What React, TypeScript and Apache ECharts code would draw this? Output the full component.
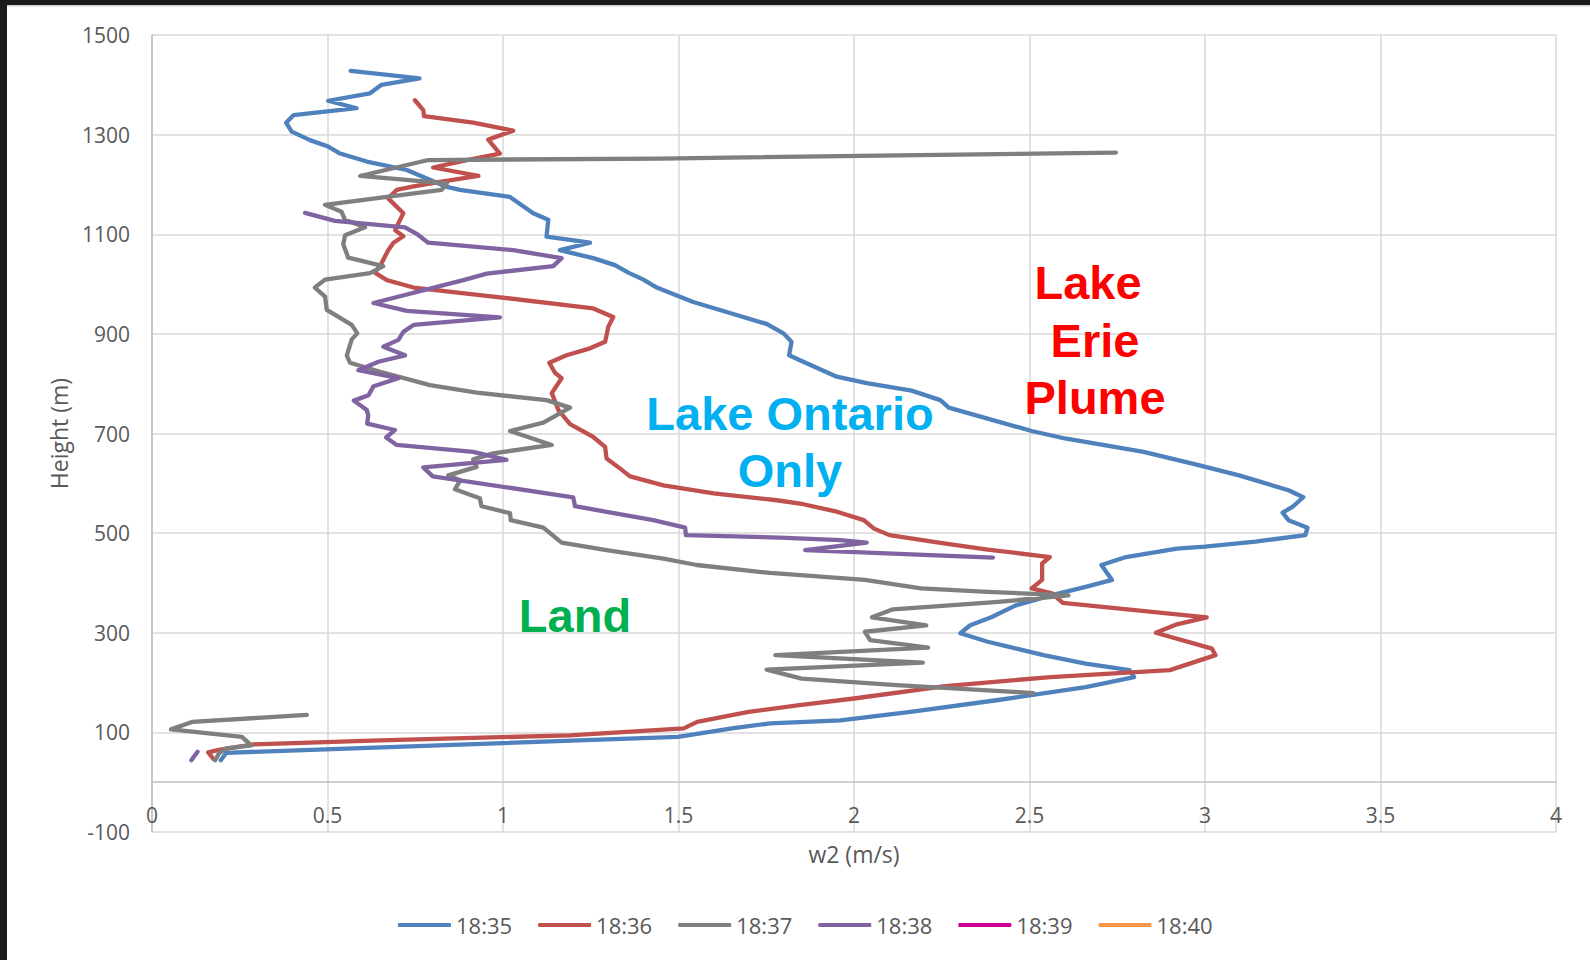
import React, { useEffect, useRef } from "react";
import * as echarts from "echarts";

// Vertical profiles of w2 (m/s) against height (m), one per launch time.
const seriesNames = ["18:35", "18:36", "18:37", "18:38", "18:39", "18:40"];
const seriesColors = ["#4F81BD", "#C0504D", "#7F7F7F", "#8064A2", "#CC0099", "#F79646"];

const xTicks = { min: 0, max: 4, step: 0.5 };
const yTicks = { min: -100, max: 1500, step: 200 };

// [w2, height] pairs, ordered from the ground up
const profile1835: [number, number][] = [
  [0.196, 44], [0.212, 59], [1.499, 91], [1.652, 108], [1.761, 118], [1.961, 124],
  [2.161, 141], [2.411, 165], [2.66, 191], [2.798, 211], [2.785, 225], [2.66, 238],
  [2.54, 255], [2.381, 282], [2.303, 299], [2.331, 315], [2.391, 331], [2.461, 355],
  [2.561, 375], [2.66, 392], [2.735, 406], [2.705, 436], [2.775, 452], [2.92, 469],
  [3.0, 473], [3.144, 483], [3.286, 496], [3.292, 511], [3.238, 526], [3.221, 541],
  [3.25, 553], [3.28, 572], [3.238, 586], [3.097, 616], [2.979, 637], [2.825, 663],
  [2.601, 690], [2.506, 705], [2.27, 752], [2.246, 767], [2.164, 786], [2.036, 801],
  [1.951, 814], [1.865, 841], [1.815, 857], [1.822, 884], [1.799, 901], [1.751, 920],
  [1.656, 940], [1.542, 964], [1.438, 993], [1.4, 1009], [1.357, 1023], [1.319, 1038],
  [1.257, 1052], [1.162, 1068], [1.248, 1083], [1.124, 1095], [1.129, 1129], [1.086, 1142],
  [1.02, 1175], [0.877, 1189], [0.84, 1195], [0.783, 1212], [0.726, 1229], [0.612, 1246],
  [0.536, 1262], [0.502, 1276], [0.45, 1289], [0.398, 1306], [0.382, 1324], [0.403, 1339],
  [0.583, 1353], [0.502, 1368], [0.621, 1383], [0.654, 1400], [0.762, 1413], [0.566, 1428],
];

const profile1836: [number, number][] = [
  [0.175, 47], [0.16, 60], [0.19, 65], [0.29, 76], [0.65, 84], [1.19, 94],
  [1.515, 108], [1.553, 121], [1.7, 141], [1.85, 155], [2.0, 168], [2.26, 193],
  [2.56, 211], [2.9, 225], [3.03, 255], [3.02, 268], [2.86, 300], [2.92, 317],
  [3.005, 331], [2.595, 360], [2.564, 379], [2.506, 389], [2.536, 406], [2.536, 439],
  [2.558, 452], [2.381, 467], [2.261, 479], [2.101, 496], [2.057, 509], [2.028, 526],
  [1.951, 543], [1.856, 558], [1.78, 566], [1.6, 580], [1.457, 596], [1.362, 614],
  [1.333, 630], [1.295, 650], [1.291, 673], [1.257, 693], [1.191, 719], [1.158, 747],
  [1.139, 781], [1.167, 811], [1.148, 822], [1.132, 842], [1.181, 857], [1.248, 871],
  [1.291, 884], [1.3, 914], [1.314, 934], [1.257, 951], [0.972, 975], [0.745, 993],
  [0.669, 1008], [0.635, 1023], [0.654, 1042], [0.673, 1068], [0.688, 1083], [0.716, 1096],
  [0.693, 1108], [0.702, 1122], [0.716, 1142], [0.673, 1172], [0.697, 1189], [0.745, 1196],
  [0.82, 1205], [0.93, 1217], [0.801, 1234], [0.897, 1249], [0.991, 1262], [0.958, 1290],
  [1.029, 1308], [0.915, 1324], [0.775, 1337], [0.773, 1349], [0.749, 1369],
];

// 18:37 has a gap in its record between ~135 m and ~180 m
const profile1837Low: [number, number][] = [
  [0.18, 44], [0.191, 58], [0.212, 68], [0.283, 74], [0.256, 91], [0.054, 106],
  [0.114, 121], [0.441, 135],
];

const profile1837High: [number, number][] = [
  [2.511, 179], [2.121, 195], [1.851, 208], [1.751, 226], [2.196, 240], [1.776, 255],
  [2.211, 270], [2.046, 285], [2.031, 302], [2.206, 315], [2.051, 331], [2.111, 347],
  [2.411, 362], [2.611, 375], [2.381, 382], [2.191, 389], [2.031, 406], [1.761, 420],
  [1.552, 436], [1.457, 449], [1.295, 466], [1.167, 481], [1.115, 511], [1.022, 526],
  [1.02, 540], [0.939, 554], [0.934, 570], [0.863, 588], [0.878, 606], [0.844, 616],
  [0.925, 633], [0.915, 648], [0.972, 660], [1.139, 677], [1.02, 705], [1.115, 722],
  [1.191, 752], [1.124, 767], [0.925, 782], [0.792, 797], [0.65, 824], [0.564, 842],
  [0.555, 857], [0.569, 889], [0.585, 901], [0.569, 918], [0.498, 948], [0.493, 975],
  [0.464, 993], [0.493, 1009], [0.621, 1022], [0.659, 1036], [0.559, 1053], [0.545, 1080],
  [0.55, 1098], [0.607, 1114], [0.55, 1129], [0.54, 1145], [0.493, 1159], [0.669, 1175],
  [0.825, 1189], [0.84, 1202], [0.593, 1217], [0.726, 1239], [0.787, 1249], [1.447, 1252],
  [2.746, 1264],
];

// 18:38 also has a gap, from ~60 m up to ~450 m
const profile1838Low: [number, number][] = [
  [0.112, 44], [0.13, 61],
];

const profile1838High: [number, number][] = [
  [2.396, 451], [1.861, 466], [2.036, 481], [1.961, 486], [1.789, 491], [1.521, 496],
  [1.519, 511], [1.428, 526], [1.276, 545], [1.205, 554], [1.2, 572], [0.8, 614],
  [0.773, 632], [1.01, 647], [0.915, 663], [0.697, 677], [0.667, 692], [0.692, 707],
  [0.613, 720], [0.616, 737], [0.612, 747], [0.575, 766], [0.617, 777], [0.631, 795],
  [0.702, 811], [0.588, 827], [0.645, 844], [0.721, 857], [0.659, 874], [0.702, 888],
  [0.716, 904], [0.745, 918], [0.991, 933], [0.726, 946], [0.631, 962], [0.887, 1008],
  [0.954, 1021], [1.143, 1036], [1.167, 1052], [1.029, 1068], [0.787, 1083], [0.754, 1101],
  [0.721, 1114], [0.521, 1127], [0.436, 1143],
];

const profile1839: [number, number][] = [];
const profile1840: [number, number][] = [];

// Region labels written on the plot
const regionLabels = [
  { text: "Lake", color: "#FF0000", x: 1088, y: 282 },
  { text: "Erie", color: "#FF0000", x: 1095, y: 340 },
  { text: "Plume", color: "#FF0000", x: 1095, y: 397 },
  { text: "Lake Ontario", color: "#00B0F0", x: 790, y: 413 },
  { text: "Only", color: "#00B0F0", x: 790, y: 470 },
  { text: "Land", color: "#00B050", x: 575, y: 615 },
];

const tickFont = '"Open Sans", "Liberation Sans", sans-serif';

// plot area, in pixels
const gridBox = { left: 152, right: 34, top: 35, bottom: 128, height: 797 };
// the horizontal axis sits at height 0, i.e. (0 - yMin) of the range above the bottom edge
const xAxisOffset = -((0 - yTicks.min) / (yTicks.max - yTicks.min)) * gridBox.height;

function lineSeries(name: string, color: string, data: [number, number][]) {
  return {
    type: "line",
    name,
    data,
    showSymbol: false,
    symbol: "none",
    smooth: false,
    lineStyle: { color, width: 4.3, cap: "round", join: "round" },
    itemStyle: { color },
    emphasis: { disabled: true },
  };
}

export default function App() {
  const ref = useRef<HTMLDivElement>(null);

  useEffect(() => {
    if (!ref.current) return;
    const chart = echarts.init(ref.current, undefined, { renderer: "svg" });

    const option = {
      animation: false,
      backgroundColor: "#ffffff",
      grid: {
        left: gridBox.left,
        right: gridBox.right,
        top: gridBox.top,
        bottom: gridBox.bottom,
        containLabel: false,
      },
      legend: {
        data: seriesNames,
        left: 393,
        top: 909,
        icon: "roundRect",
        itemWidth: 53,
        itemHeight: 4,
        itemGap: 26,
        textStyle: { color: "#595959", fontSize: 22, fontFamily: tickFont },
      },
      xAxis: {
        type: "value",
        position: "bottom",
        offset: xAxisOffset,
        min: xTicks.min,
        max: xTicks.max,
        interval: xTicks.step,
        name: "w2 (m/s)",
        nameLocation: "middle",
        nameGap: 60,
        nameTextStyle: { color: "#595959", fontSize: 23, fontFamily: tickFont },
        axisLine: { show: true, onZero: false, lineStyle: { color: "#BFBFBF", width: 1.5 } },
        axisTick: { show: false },
        axisLabel: {
          margin: 22,
          color: "#595959",
          fontSize: 21,
          fontFamily: tickFont,
          formatter: (v: number) => String(v),
        },
        splitLine: { show: true, lineStyle: { color: "#D9D9D9", width: 1.5 } },
      },
      yAxis: {
        type: "value",
        min: yTicks.min,
        max: yTicks.max,
        interval: yTicks.step,
        name: "Height (m)",
        nameLocation: "middle",
        nameRotate: 90,
        nameGap: 82,
        nameTextStyle: { color: "#595959", fontSize: 23, fontFamily: tickFont },
        axisLine: { show: true, onZero: false, lineStyle: { color: "#BFBFBF", width: 1.5 } },
        axisTick: { show: false },
        axisLabel: {
          margin: 22,
          color: "#595959",
          fontSize: 21,
          fontFamily: tickFont,
          formatter: (v: number) => String(v),
        },
        splitLine: { show: true, lineStyle: { color: "#D9D9D9", width: 1.5 } },
      },
      graphic: [
        { type: "rect", shape: { x: 0, y: 0, width: 1590, height: 5 }, style: { fill: "#1b1b1b" }, silent: true },
        { type: "rect", shape: { x: 0, y: 5, width: 1590, height: 1.5 }, style: { fill: "#d4d4d4" }, silent: true },
        { type: "rect", shape: { x: 0, y: 0, width: 7, height: 960 }, style: { fill: "#1b1b1b" }, silent: true },
        ...regionLabels.map((r) => ({
          type: "text",
          x: r.x,
          y: r.y,
          silent: true,
          z: 10,
          style: {
            text: r.text,
            fill: r.color,
            font: 'bold 47px "Liberation Sans", Arial, sans-serif',
            align: "center",
            verticalAlign: "middle",
          },
        })),
      ],
      series: [
        lineSeries(seriesNames[0], seriesColors[0], profile1835),
        lineSeries(seriesNames[1], seriesColors[1], profile1836),
        lineSeries(seriesNames[2], seriesColors[2], profile1837Low),
        lineSeries(seriesNames[2], seriesColors[2], profile1837High),
        lineSeries(seriesNames[3], seriesColors[3], profile1838Low),
        lineSeries(seriesNames[3], seriesColors[3], profile1838High),
        lineSeries(seriesNames[4], seriesColors[4], profile1839),
        lineSeries(seriesNames[5], seriesColors[5], profile1840),
      ],
    };

    chart.setOption(option as any);
    return () => chart.dispose();
  }, []);

  return (
    <div
      ref={ref}
      style={{ position: "fixed", left: 0, top: 0, width: 1590, height: 960, background: "#ffffff" }}
    />
  );
}
